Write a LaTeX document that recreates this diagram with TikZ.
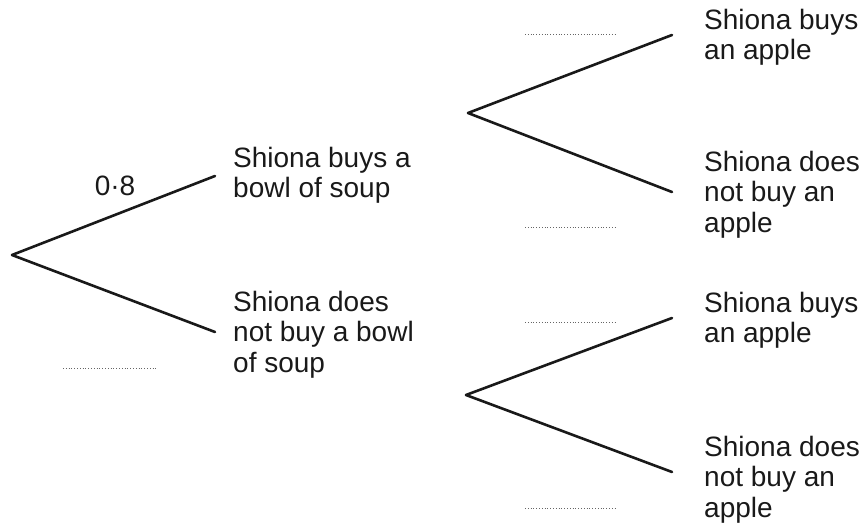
\documentclass[tikz,border=0pt]{standalone}
\usepackage{fontspec}
\setmainfont{Liberation Sans}
\begin{document}
\begin{tikzpicture}[x=1pt,y=-1pt,
  branch/.style={line width=2.6pt,line cap=round,line join=round,black!90},
  blank/.style={line width=1pt,black!60,dash pattern=on 1pt off 1.8pt},
  lbl/.style={anchor=north west,inner sep=0pt,align=left,font=\fontsize{28}{30.5}\selectfont,text=black!90},
  prob/.style={inner sep=0pt,font=\fontsize{28}{30}\selectfont,text=black!90}]
\useasboundingbox (0,0) rectangle (860,529);
% branch points
\coordinate (root) at (12,255);
\coordinate (s1) at (215,176);
\coordinate (s2) at (215,332);
\coordinate (v1) at (468,113);
\coordinate (a1) at (672,35);
\coordinate (a2) at (672,192);
\coordinate (v2) at (466,395);
\coordinate (a3) at (672,318);
\coordinate (a4) at (672,472);
\draw[branch] (s1) -- (root) -- (s2);
\draw[branch] (a1) -- (v1) -- (a2);
\draw[branch] (a3) -- (v2) -- (a4);
% labels
\node[lbl] (t1) at (233,147) {Shiona buys a\\bowl of soup};
\node[lbl] (t2) at (233,291) {Shiona does\\not buy a bowl\\of soup};
\node[lbl] (t3) at (704,9) {Shiona buys\\an apple};
\node[lbl] (t4) at (704,151) {Shiona does\\not buy an\\apple};
\node[lbl] (t5) at (704,292) {Shiona buys\\an apple};
\node[lbl] (t6) at (704,436) {Shiona does\\not buy an\\apple};
\node[prob] (p) at (115,186) {0·8};
% answer blanks
\coordinate (d1a) at (525,35);  \coordinate (d1b) at (617,35);
\coordinate (d2a) at (525,228); \coordinate (d2b) at (617,228);
\coordinate (d3a) at (525,323); \coordinate (d3b) at (617,323);
\coordinate (d4a) at (525,508); \coordinate (d4b) at (617,508);
\coordinate (d5a) at (63,369);  \coordinate (d5b) at (157,369);
\draw[blank] (d1a) -- (d1b);
\draw[blank] (d2a) -- (d2b);
\draw[blank] (d3a) -- (d3b);
\draw[blank] (d4a) -- (d4b);
\draw[blank] (d5a) -- (d5b);
\end{tikzpicture}
\end{document}
